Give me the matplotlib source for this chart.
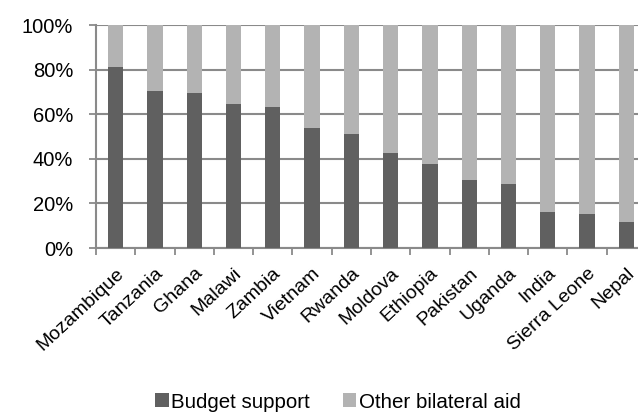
import matplotlib
matplotlib.use("Agg")
import matplotlib.pyplot as plt
import numpy as np
from matplotlib.ticker import FixedLocator, PercentFormatter

countries = ["Mozambique", "Tanzania", "Ghana", "Malawi", "Zambia", "Vietnam",
             "Rwanda", "Moldova", "Ethiopia", "Pakistan", "Uganda", "India",
             "Sierra Leone", "Nepal"]
budget_support = [81.2, 70.5, 69.7, 64.7, 63.1, 53.7, 51.3, 42.6, 37.7, 30.5,
                  28.8, 16.1, 15.4, 11.8]
other_bilateral = [100 - v for v in budget_support]

plt.rcParams['font.family'] = ['Liberation Sans', 'DejaVu Sans']

fig = plt.figure(figsize=(6.38, 4.12), dpi=100)
ax = fig.add_axes([96/638, (412-248)/412, 550/638, 223/412])

x = np.arange(len(countries))
dark = "#606060"
light = "#b3b3b3"
grid = "#8a8a8a"
ax.bar(x, budget_support, width=0.39, color=dark, label="Budget support", zorder=3)
ax.bar(x, other_bilateral, width=0.39, bottom=budget_support, color=light,
       label="Other bilateral aid", zorder=3)

ax.set_xlim(-0.5, len(countries) - 0.5)
ax.set_ylim(0, 100)
ax.set_yticks([0, 20, 40, 60, 80, 100])
ax.yaxis.set_major_formatter(PercentFormatter(decimals=0))
ax.yaxis.grid(True, color=grid, linewidth=1.5, zorder=0)
ax.set_axisbelow(True)

ax.set_xticks(x)
ax.set_xticklabels(countries, rotation=43, ha='right', rotation_mode='anchor',
                   fontsize=14)
ax.xaxis.set_minor_locator(FixedLocator(np.arange(-0.5, len(countries), 1)))
ax.tick_params(axis='x', which='major', length=0, pad=12)
ax.tick_params(axis='x', which='minor', length=5, width=1.3, color=grid)
ax.tick_params(axis='y', length=5, width=1.3, color=grid, pad=11.5, labelsize=14.5)

for s in ['top', 'right']:
    ax.spines[s].set_visible(False)
for s in ['left', 'bottom']:
    ax.spines[s].set_color(grid)
    ax.spines[s].set_linewidth(1.5)

fig.legend(loc='center', bbox_to_anchor=(338/638, 1 - 402/412), ncol=2,
           frameon=False, fontsize=14.8, handlelength=0.65, handleheight=0.65,
           handletextpad=0.12, columnspacing=1.6, borderaxespad=0)

fig.savefig("out.png", dpi=100)
